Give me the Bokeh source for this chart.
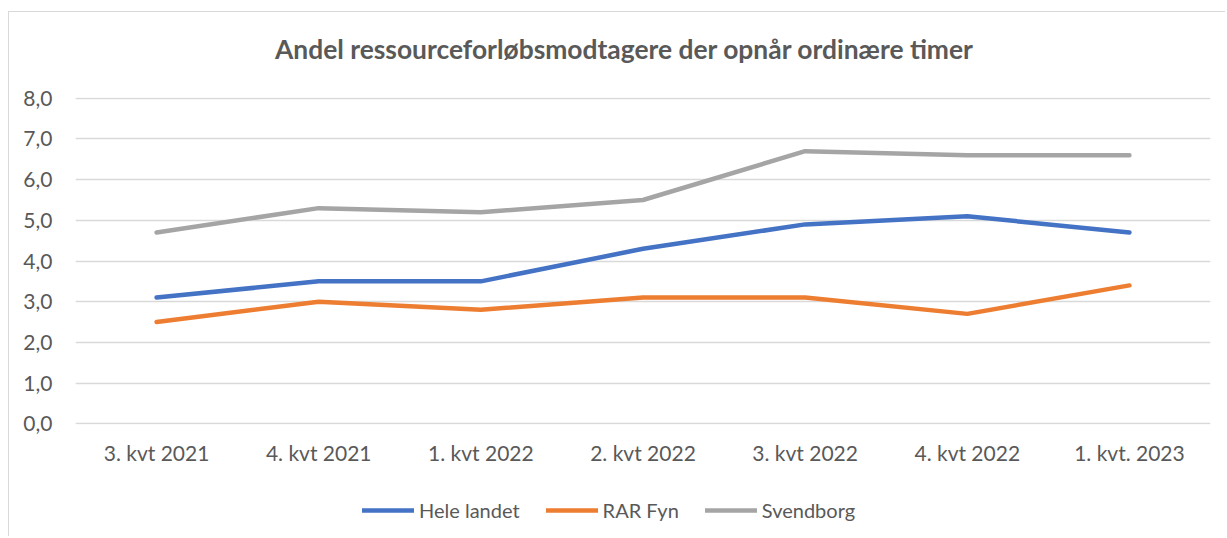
from bokeh.plotting import figure
from bokeh.layouts import column
from bokeh.models import Legend, LegendItem, Label, FixedTicker, CustomJSTickFormatter, Range1d, FactorRange
from bokeh.embed import file_html
from bokeh.resources import INLINE

categories = ["3. kvt 2021", "4. kvt 2021", "1. kvt 2022", "2. kvt 2022",
              "3. kvt 2022", "4. kvt 2022", "1. kvt. 2023"]
hele_landet = [3.1, 3.5, 3.5, 4.3, 4.9, 5.1, 4.7]
rar_fyn = [2.5, 3.0, 2.8, 3.1, 3.1, 2.7, 3.4]
svendborg = [4.7, 5.3, 5.2, 5.5, 6.7, 6.6, 6.6]
y_ticks = [0, 1, 2, 3, 4, 5, 6, 7, 8]
title_text = "Andel ressourceforløbsmodtagere der opnår ordinære timer"

FONT = "Lato"
TXT = "#595959"
W = 1216

series = [("Hele landet", hele_landet, "#4472C4"),
          ("RAR Fyn", rar_fyn, "#ED7D31"),
          ("Svendborg", svendborg, "#A5A5A5")]

def strip(h):
    f = figure(width=W, height=h, output_backend="svg", toolbar_location=None,
               x_range=FactorRange(*categories), y_range=Range1d(0, 1),
               min_border_left=66, min_border_right=15, min_border_top=0, min_border_bottom=0,
               x_axis_location=None, y_axis_location=None)
    f.outline_line_color = None
    f.grid.grid_line_color = None
    return f

# title strip
pt = strip(70)
pt.add_layout(Label(x=549, y=34, x_units="screen", y_units="screen", text=title_text,
                    text_align="center", text_baseline="middle", text_font=FONT,
                    text_font_size="26.4px", text_font_style="bold", text_color=TXT))

# chart
p = figure(x_range=categories, y_range=Range1d(-0.02, 8.02), width=W, height=396,
           output_backend="svg", toolbar_location=None,
           min_border_left=66, min_border_right=15, min_border_top=15, min_border_bottom=54)
p.outline_line_color = None
for name, vals, col in series:
    p.line(categories, vals, line_color=col, line_width=4.5, line_cap="round", line_join="round")

p.xgrid.grid_line_color = None
p.ygrid.grid_line_color = "#d9d9d9"
p.ygrid.grid_line_width = 1.3
p.yaxis.ticker = FixedTicker(ticks=y_ticks)
p.yaxis.formatter = CustomJSTickFormatter(code="return tick.toFixed(1).replace('.', ',');")
for ax in (p.xaxis[0], p.yaxis[0]):
    ax.axis_line_color = None
    ax.major_tick_line_color = None
    ax.minor_tick_line_color = None
    ax.major_label_text_color = TXT
    ax.major_label_text_font = FONT
    ax.major_label_text_font_size = "21px"
p.yaxis.major_label_standoff = 17
p.xaxis.major_label_standoff = 9

# legend strip (series drawn outside its 0..1 y-range, only the legend shows)
pl = strip(58)
items = []
for name, vals, col in series:
    r = pl.line(categories, vals, line_color=col, line_width=4.5, line_cap="round")
    items.append(LegendItem(label=name, renderers=[r]))
legend = Legend(items=items, orientation="horizontal", location=(287, 14),
                label_text_font=FONT, label_text_font_size="20px", label_text_color=TXT,
                glyph_width=52, glyph_height=20, label_standoff=5, spacing=26,
                padding=0, margin=0, border_line_color=None, background_fill_alpha=0)
pl.add_layout(legend)

layout = column(pt, p, pl, spacing=0)
layout.margin = (11, 0, 0, 8)
layout.styles = {"border-left": "1px solid #d9d9d9", "border-top": "1px solid #d9d9d9"}

open("out.html", "w").write(file_html(layout, INLINE))
